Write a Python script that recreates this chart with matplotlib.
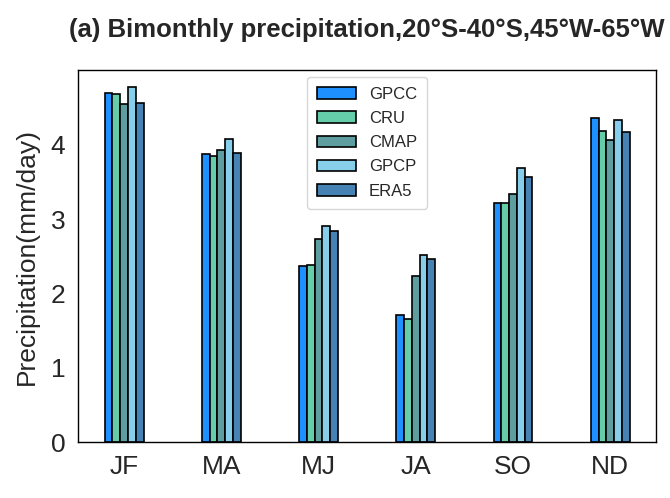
import numpy as np
import matplotlib
matplotlib.use('Agg')
import matplotlib.pyplot as plt
import seaborn as sns

sns.set_style('white')
plt.rcParams['font.family'] = ['Liberation Sans', 'DejaVu Sans']

# --- data (mm/day) ---
periods = ['JF', 'MA', 'MJ', 'JA', 'SO', 'ND']
datasets = ['GPCC', 'CRU', 'CMAP', 'GPCP', 'ERA5']
gpcc = [4.70, 3.88, 2.37, 1.71, 3.22, 4.36]
cru = [4.68, 3.85, 2.38, 1.66, 3.22, 4.18]
cmap = [4.54, 3.93, 2.73, 2.24, 3.34, 4.06]
gpcp = [4.77, 4.08, 2.91, 2.51, 3.68, 4.33]
era5 = [4.56, 3.89, 2.84, 2.46, 3.57, 4.17]
colors = ['dodgerblue', 'mediumaquamarine', 'cadetblue', 'skyblue', 'steelblue']

series = [gpcc, cru, cmap, gpcp, era5]

fig = plt.figure(figsize=(6.7, 4.98), dpi=100)
ax = fig.add_axes([0.117, 0.112, 0.862, 0.747])

x = np.arange(len(periods))
w = 0.08
for i, (vals, name, c) in enumerate(zip(series, datasets, colors)):
    ax.bar(x + (i - 2) * w, vals, width=w, color=c, edgecolor='black',
           linewidth=1.2, label=name)

ax.set_ylim(0, 5)
ax.set_yticks([0, 1, 2, 3, 4])
ax.set_xticks(x)
ax.set_xticklabels(periods)
ax.tick_params(axis='both', labelsize=19, pad=6)
ax.set_ylabel('Precipitation(mm/day)', fontsize=19, labelpad=8)
ax.set_title('(a) Bimonthly precipitation,20°S-40°S,45°W-65°W',
             fontsize=18.5, fontweight='bold', pad=24)
for sp in ax.spines.values():
    sp.set_color('black')
    sp.set_linewidth(1.0)

ax.legend(loc='upper center', fontsize=12, handlelength=2.3, borderpad=0.6,
          labelspacing=0.55, borderaxespad=0.4)

fig.savefig('out.png', dpi=100)
